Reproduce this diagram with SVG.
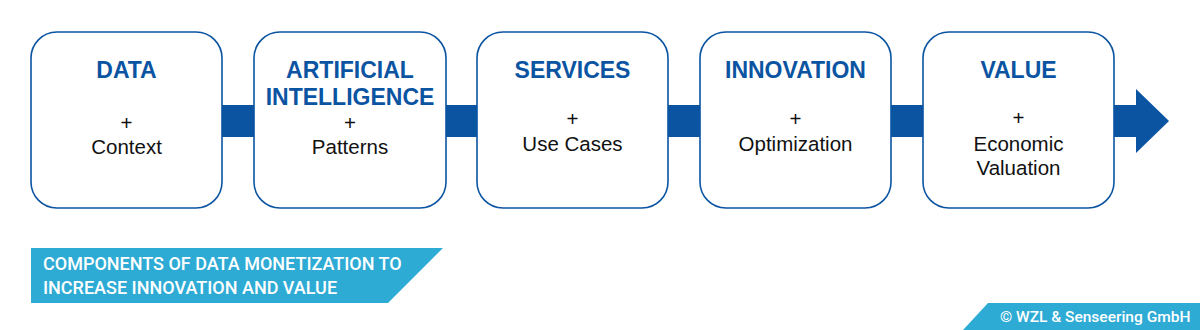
<svg xmlns="http://www.w3.org/2000/svg" width="1200" height="330" viewBox="0 0 1200 330">
<style>
.box{fill:#fff;stroke:#0b54a2;stroke-width:1.6}
.t{font-family:"Liberation Sans",Arial,sans-serif;font-weight:bold;font-size:23px;fill:#0b54a2;text-anchor:middle}
.s{font-family:"Liberation Sans",Arial,sans-serif;font-size:20.5px;fill:#111;text-anchor:middle}
.b{font-family:Roboto,"Liberation Sans",sans-serif;font-weight:500;font-size:18px;fill:#fff}
</style>
<rect width="1200" height="330" fill="#fff"/>
<g id="connectors">
<rect x="215" y="105" width="925" height="32" fill="#0b54a2"/>
<polygon points="1136,89 1169,121 1136,153" fill="#0b54a2"/>
</g>
<g id="data">
<rect class="box" x="31" y="32" width="191" height="176" rx="26"/>
<text class="t" x="126.5" y="78">DATA</text>
<text class="s" x="126.5" y="130">+</text>
<text class="s" x="126.5" y="154">Context</text>
</g>
<g id="ai">
<rect class="box" x="254" y="32" width="192" height="176" rx="26"/>
<text class="t" x="350" y="78">ARTIFICIAL</text>
<text class="t" x="350" y="105">INTELLIGENCE</text>
<text class="s" x="350" y="130">+</text>
<text class="s" x="350" y="154">Patterns</text>
</g>
<g id="services">
<rect class="box" x="477" y="32" width="191" height="176" rx="26"/>
<text class="t" x="572.5" y="78">SERVICES</text>
<text class="s" x="572.5" y="126">+</text>
<text class="s" x="572.5" y="151">Use Cases</text>
</g>
<g id="innovation">
<rect class="box" x="700" y="32" width="191" height="176" rx="26"/>
<text class="t" x="795.5" y="78">INNOVATION</text>
<text class="s" x="795.5" y="126">+</text>
<text class="s" x="795.5" y="151">Optimization</text>
</g>
<g id="value">
<rect class="box" x="923" y="32" width="191" height="176" rx="26"/>
<text class="t" x="1018.5" y="78">VALUE</text>
<text class="s" x="1018.5" y="125">+</text>
<text class="s" x="1018.5" y="151">Economic</text>
<text class="s" x="1018.5" y="175">Valuation</text>
</g>
<g id="caption">
<polygon points="31,248 443,248 388,303 31,303" fill="#2eabd5"/>
<text class="b" x="43" y="270">COMPONENTS OF DATA MONETIZATION TO</text>
<text class="b" x="43" y="294">INCREASE INNOVATION AND VALUE</text>
</g>
<g id="copyright">
<polygon points="988,303 1200,303 1200,330 963,330" fill="#2eabd5"/>
<text class="b" x="1000" y="322" style="font-size:15.5px">© WZL &amp; Senseering GmbH</text>
</g>
</svg>
